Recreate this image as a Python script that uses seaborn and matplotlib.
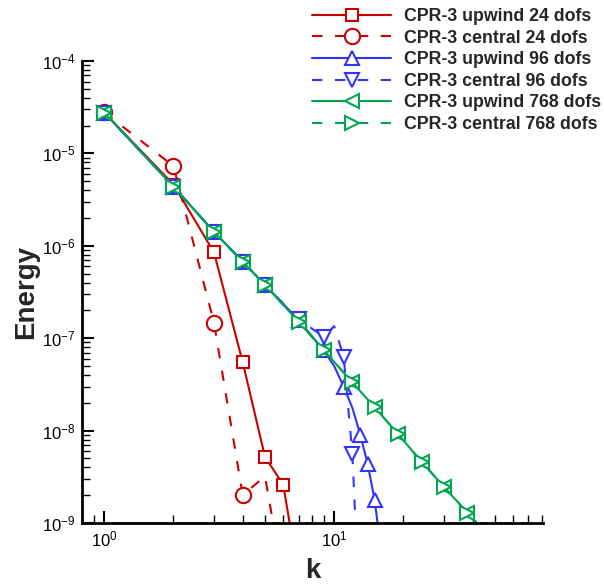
import matplotlib
matplotlib.use('Agg')
import matplotlib.pyplot as plt
import seaborn as sns
from matplotlib.lines import Line2D
from matplotlib.ticker import LogLocator, NullFormatter

# wavenumber / energy values
k_red_up = [1, 2, 3, 4, 5, 6, 7]
e_red_up = [2.76e-5, 4.6e-6, 8.5e-7, 5.5e-8, 5.2e-9, 2.6e-9, 2.7e-10]
m_red_up = [0, 1, 2, 3, 4, 5]

k_red_c = [1, 2, 3, 4, 5, 6]
e_red_c = [2.78e-5, 7.3e-6, 1.47e-7, 2.0e-9, 3.2e-9, 2.4e-10]
m_red_c = [0, 1, 2, 3]

k_blue_up = [1, 2, 3, 4, 5, 7, 9, 10, 11, 12, 13, 14, 15, 16]
e_blue_up = [2.76e-5, 4.37e-6, 1.42e-6, 6.73e-7, 3.77e-7, 1.58e-7, 7.4e-8,
             5.0e-8, 3.0e-8, 1.76e-8, 9.0e-9, 4.3e-9, 1.77e-9, 5.0e-10]
m_blue_up = [0, 1, 2, 3, 4, 5, 6, 8, 10, 11, 12]

k_blue_c = [1, 2, 3, 4, 5, 7, 9, 10, 11, 12, 13]
e_blue_c = [2.76e-5, 4.37e-6, 1.42e-6, 6.73e-7, 3.77e-7, 1.6e-7, 1.04e-7,
            1.35e-7, 6.3e-8, 5.6e-9, 7.0e-11]
m_blue_c = [0, 1, 2, 3, 4, 5, 6, 8, 9]

k_green = [1, 2, 3, 4, 5, 7, 9, 12, 15, 19, 24, 30, 38, 42]
e_green = [2.76e-5, 4.37e-6, 1.42e-6, 6.73e-7, 3.77e-7, 1.51e-7, 7.45e-8,
           3.32e-8, 1.79e-8, 9.11e-9, 4.6e-9, 2.47e-9, 1.29e-9, 9.8e-10]
m_green = list(range(13))

labels = ['CPR-3 upwind 24 dofs', 'CPR-3 central 24 dofs',
          'CPR-3 upwind 96 dofs', 'CPR-3 central 96 dofs',
          'CPR-3 upwind 768 dofs', 'CPR-3 central 768 dofs']

RED, BLUE, GREEN = '#cc0000', '#3333ff', '#00a651'
DASH = (0, (5, 6))

sns.set_style('ticks')
plt.rcParams['font.family'] = ['Liberation Sans', 'DejaVu Sans']
plt.rcParams['mathtext.fontset'] = 'custom'
plt.rcParams['mathtext.rm'] = 'Liberation Sans'
plt.rcParams['mathtext.it'] = 'Liberation Sans:italic'
plt.rcParams['mathtext.bf'] = 'Liberation Sans:bold'

fig = plt.figure(figsize=(6.04, 5.84), dpi=100)
ax = fig.add_axes([0.1358, 0.1045, 0.7632, 0.791])

series = [
    (k_red_up, e_red_up, m_red_up, RED, '-', 's', 8),
    (k_red_c, e_red_c, m_red_c, RED, DASH, 'o', 11),
    (k_blue_up, e_blue_up, m_blue_up, BLUE, '-', '^', 10),
    (k_blue_c, e_blue_c, m_blue_c, BLUE, DASH, 'v', 10),
    (k_green, e_green, m_green, GREEN, '-', '<', 10),
    (k_green, e_green, m_green, GREEN, DASH, '>', 10),
]

handles = []
for (kk, ee, mk, col, ls, mrk, ms), lab in zip(series, labels):
    sns.lineplot(x=kk, y=ee, ax=ax, color=col, linestyle=ls, lw=1.5,
                 marker=mrk, markersize=ms, markevery=mk, mfc='white',
                 mec=col, mew=1.5, estimator=None, sort=False)
    handles.append(Line2D([], [], color=col, linestyle=ls, lw=1.5,
                          marker=mrk, markersize=ms, mfc='white',
                          mec=col, mew=1.5, label=lab))

ax.set_xscale('log')
ax.set_yscale('log')
ax.set_xlim(0.8, 81)
ax.set_ylim(1e-9, 1e-4)

ax.yaxis.set_major_locator(LogLocator(base=10))
ax.yaxis.set_minor_locator(LogLocator(base=10, subs=range(2, 10)))
ax.xaxis.set_minor_formatter(NullFormatter())
ax.yaxis.set_minor_formatter(NullFormatter())

ax.tick_params(which='major', direction='in', length=8.5, width=1.5,
               labelsize=12, pad=5, color='black', labelcolor='black')
ax.tick_params(which='minor', direction='in', length=5.5, width=1,
               color='black')
for side in ['top', 'right']:
    ax.spines[side].set_visible(False)
for side in ['left', 'bottom']:
    ax.spines[side].set_linewidth(2)
    ax.spines[side].set_color('black')

ax.set_xlabel('k', fontsize=20, fontweight='bold')
ax.set_ylabel('Energy', fontsize=20, fontweight='bold')
ax.xaxis.set_label_coords(0.5, -0.075)
ax.yaxis.set_label_coords(-0.094, 0.5)

ax.legend(handles=handles, loc='upper left', bbox_to_anchor=(312 / 604, 1 - 8 / 584),
          bbox_transform=fig.transFigure, frameon=False,
          prop={'weight': 'bold', 'size': 12.8}, handlelength=4.45,
          handletextpad=0.75, labelspacing=0.26, borderaxespad=0, borderpad=0)

fig.savefig('out.png', dpi=100)
